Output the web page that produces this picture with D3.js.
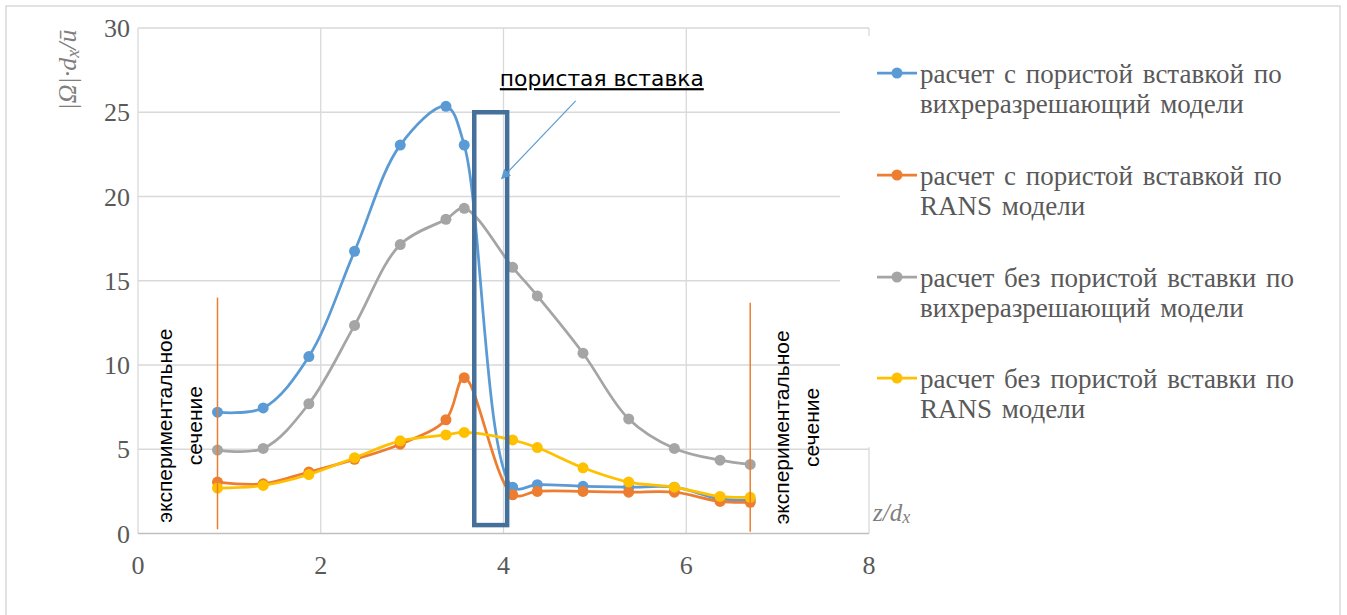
<!DOCTYPE html>
<html>
<head>
<meta charset="utf-8">
<script src="https://cdn.jsdelivr.net/npm/d3@7"></script>
<style>
  html, body { margin: 0; padding: 0; background: #fff; }
  svg { display: block; }
</style>
</head>
<body>
<svg id="chart" width="1347" height="615"></svg>
<script>
// Sampling positions along the channel, z/dx
const zPositions = [0.87, 1.37, 1.87, 2.37, 2.87, 3.37, 3.57, 4.1, 4.37, 4.87, 5.37, 5.87, 6.37, 6.7];

// |Ω|·dx/ū for each computation
const lesWithInsert   = [7.2, 7.45, 10.5, 16.75, 23.05, 25.35, 23.05, 2.75, 2.9, 2.8, 2.75, 2.75, 2.05, 2.0];
const ransWithInsert  = [3.05, 2.95, 3.65, 4.4, 5.3, 6.75, 9.25, 2.3, 2.5, 2.5, 2.45, 2.45, 1.9, 1.85];
const lesNoInsert     = [4.95, 5.05, 7.7, 12.35, 17.15, 18.65, 19.3, 15.8, 14.1, 10.7, 6.8, 5.05, 4.35, 4.1];
const ransNoInsert    = [2.7, 2.85, 3.5, 4.5, 5.5, 5.85, 6.0, 5.55, 5.1, 3.9, 3.05, 2.75, 2.2, 2.15];

const seriesNames = [
  ["расчет с пористой вставкой по", "вихреразрешающий модели"],
  ["расчет с пористой вставкой по", "RANS модели"],
  ["расчет без пористой вставки по", "вихреразрешающий модели"],
  ["расчет без пористой вставки по", "RANS модели"]
];
const seriesValues = [lesWithInsert, ransWithInsert, lesNoInsert, ransNoInsert];
const seriesColors = ["#5B9BD5", "#ED7D31", "#A5A5A5", "#FFC000"];

const xTicks = [0, 2, 4, 6, 8];
const yTicks = [0, 5, 10, 15, 20, 25, 30];

// Porous insert extent and experimental sections (z/dx)
const insertZ = [3.68, 4.04];
const insertHeight = [0.5, 25];
const sectionZ = [0.87, 6.7];

const svg = d3.select("#chart");

const x = d3.scaleLinear().domain([0, 8]).range([138, 869]);
const y = d3.scaleLinear().domain([0, 30]).range([533.5, 28]);

const serif = "'Liberation Serif', 'Times New Roman', serif";
const sans = "'Liberation Sans', Arial, sans-serif";

// outer chart frame
svg.append("rect")
  .attr("x", 6).attr("y", 6).attr("width", 1334).attr("height", 640)
  .attr("fill", "#fff").attr("stroke", "#d9d9d9").attr("stroke-width", 1.5);

// gridlines
const grid = svg.append("g");
grid.selectAll("line.h").data(yTicks.filter(d => d > 0)).join("line")
  .attr("x1", x(0)).attr("x2", x(8))
  .attr("y1", d => y(d)).attr("y2", d => y(d))
  .attr("stroke", "#d9d9d9").attr("stroke-width", 1.3);
grid.selectAll("line.v").data(xTicks).join("line")
  .attr("x1", d => x(d)).attr("x2", d => x(d))
  .attr("y1", y(30)).attr("y2", y(0))
  .attr("stroke", "#d9d9d9").attr("stroke-width", 1.3);

// white text panel to the right of the last section
svg.append("rect")
  .attr("x", x(8) - 29).attr("y", y(30) + 8)
  .attr("width", 34).attr("height", y(5) - y(30) - 10)
  .attr("fill", "#fff");

// horizontal axis line
svg.append("line")
  .attr("x1", x(0)).attr("x2", x(8))
  .attr("y1", y(0)).attr("y2", y(0))
  .attr("stroke", "#bfbfbf").attr("stroke-width", 1.5);

// tick labels
svg.append("g").selectAll("text").data(yTicks).join("text")
  .attr("x", 130).attr("y", d => y(d) + 9)
  .attr("text-anchor", "end")
  .attr("font-family", serif).attr("font-size", 26).attr("fill", "#595959")
  .text(d => d);
svg.append("g").selectAll("text").data(xTicks).join("text")
  .attr("x", d => x(d)).attr("y", 574)
  .attr("text-anchor", "middle")
  .attr("font-family", serif).attr("font-size", 26).attr("fill", "#595959")
  .text(d => d);

// axis titles
const yTitle = svg.append("text")
  .attr("transform", "translate(76,70) rotate(-90)")
  .attr("text-anchor", "middle")
  .attr("font-family", serif).attr("font-style", "italic")
  .attr("font-size", 26).attr("fill", "#7f7f7f");
yTitle.append("tspan").text("|Ω|·d");
yTitle.append("tspan").attr("font-size", 18).attr("dy", 3).text("x");
yTitle.append("tspan").attr("dy", -3).text("/ū");

const xTitle = svg.append("text")
  .attr("x", 873).attr("y", 521)
  .attr("font-family", serif).attr("font-style", "italic")
  .attr("font-size", 25).attr("fill", "#7f7f7f");
xTitle.append("tspan").text("z/d");
xTitle.append("tspan").attr("font-size", 18).attr("dy", 2).text("x");

// smoothed series lines with markers
const line = d3.line()
  .x((d, i) => x(zPositions[i]))
  .y(d => y(d))
  .curve(d3.curveCatmullRom.alpha(0.5));

seriesValues.forEach((vals, s) => {
  const g = svg.append("g");
  g.append("path")
    .attr("d", line(vals))
    .attr("fill", "none")
    .attr("stroke", seriesColors[s])
    .attr("stroke-width", 2.75)
    .attr("stroke-linejoin", "round");
  g.selectAll("circle").data(vals).join("circle")
    .attr("cx", (d, i) => x(zPositions[i]))
    .attr("cy", d => y(d))
    .attr("r", 5.5)
    .attr("fill", seriesColors[s]);
});

// experimental section markers
svg.append("line")
  .attr("x1", x(sectionZ[0])).attr("x2", x(sectionZ[0]))
  .attr("y1", y(14.0)).attr("y2", y(0.25))
  .attr("stroke", "#ED7D31").attr("stroke-width", 1.5);
svg.append("line")
  .attr("x1", x(sectionZ[1])).attr("x2", x(sectionZ[1]))
  .attr("y1", y(13.7)).attr("y2", y(0.1))
  .attr("stroke", "#ED7D31").attr("stroke-width", 1.5);

function sectionLabel(cx, cy) {
  const t = svg.append("text")
    .attr("transform", `translate(${cx},${cy}) rotate(-90)`)
    .attr("text-anchor", "middle")
    .attr("font-family", sans).attr("font-size", 21).attr("fill", "#000");
  t.append("tspan").attr("x", 0).attr("dy", 0).text("экспериментальное");
  t.append("tspan").attr("x", 0).attr("dy", 30).text("сечение");
}
sectionLabel(x(sectionZ[0]) - 45, y(6.4));
sectionLabel(x(sectionZ[1]) + 39, y(6.3));

// porous insert outline
svg.append("rect")
  .attr("x", x(insertZ[0])).attr("y", y(insertHeight[1]))
  .attr("width", x(insertZ[1]) - x(insertZ[0]))
  .attr("height", y(insertHeight[0]) - y(insertHeight[1]))
  .attr("fill", "none").attr("stroke", "#44709B").attr("stroke-width", 4.5);

// callout for the insert
const defs = svg.append("defs");
defs.append("marker")
  .attr("id", "tri").attr("viewBox", "0 0 10 10")
  .attr("refX", 9).attr("refY", 5)
  .attr("markerWidth", 8).attr("markerHeight", 8)
  .attr("orient", "auto")
  .append("path").attr("d", "M0,0 L10,5 L0,10 z").attr("fill", "#5B9BD5");
svg.append("line")
  .attr("x1", x(4.79)).attr("y1", y(25.68))
  .attr("x2", x(3.98)).attr("y2", y(21.07))
  .attr("stroke", "#5B9BD5").attr("stroke-width", 1.2)
  .attr("marker-end", "url(#tri)");

svg.append("text")
  .attr("x", x(3.96)).attr("y", y(26.55))
  .attr("font-family", "'DejaVu Sans', Verdana, sans-serif").attr("font-size", 21.8)
  .attr("fill", "#000").attr("text-decoration", "underline")
  .text("пористая вставка");

// legend
const legend = svg.append("g");
const legendTop = [83, 185, 287, 388];
seriesNames.forEach((lines, s) => {
  const g = legend.append("g").attr("transform", `translate(0,${legendTop[s]})`);
  g.append("line").attr("x1", 877).attr("x2", 917).attr("y1", -10).attr("y2", -10)
    .attr("stroke", seriesColors[s]).attr("stroke-width", 2.75);
  g.append("circle").attr("cx", 897).attr("cy", -10).attr("r", 5.5).attr("fill", seriesColors[s]);
  lines.forEach((ln, k) => {
    g.append("text").attr("x", 920).attr("y", k * 30)
      .attr("font-family", serif).attr("font-size", 27).attr("fill", "#595959")
      .attr("word-spacing", 3)
      .text(ln);
  });
});
</script>
</body>
</html>
